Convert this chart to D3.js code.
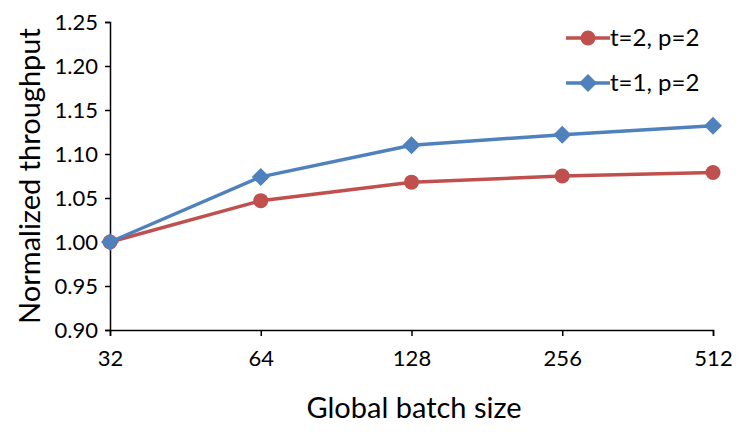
<!DOCTYPE html>
<html><head><meta charset="utf-8">
<script src="https://cdn.jsdelivr.net/npm/d3@7"></script>
<style>body{margin:0;background:#fff}svg{display:block}text{font-family:Lato,"Open Sans",sans-serif;fill:#000}</style>
</head><body><svg id="c" width="745" height="434"></svg>
<script>
const categories = ["32","64","128","256","512"];
const seriesNames = ["t=2, p=2","t=1, p=2"];
const red = [1.000,1.047,1.068,1.075,1.079];
const blue = [1.000,1.074,1.110,1.122,1.132];
const yTicks = [0.90,0.95,1.00,1.05,1.10,1.15,1.20,1.25];

const svg = d3.select("#c");
const x = d3.scalePoint().domain(categories).range([110,713]);
const y = d3.scaleLinear().domain([0.90,1.25]).range([330,22]);

const yAx = svg.append("g").attr("transform","translate(110,0)")
  .call(d3.axisLeft(y).tickValues(yTicks).tickFormat(d3.format(".2f")).tickSize(5).tickPadding(7));
const xAx = svg.append("g").attr("transform","translate(0,330)")
  .call(d3.axisBottom(x).tickSize(6).tickPadding(14));
[yAx,xAx].forEach(g=>{
  g.select(".domain").attr("stroke","#000").attr("stroke-width",1.5);
  g.selectAll(".tick line").attr("stroke","#000").attr("stroke-width",1.5);
  g.selectAll("text").attr("font-size",22).attr("font-family","Lato,'Open Sans',sans-serif").attr("fill","#000");
});

svg.append("text").attr("transform","translate(40,176) rotate(-90)").attr("text-anchor","middle")
  .attr("font-size",29).text("Normalized throughput");
svg.append("text").attr("x",414).attr("y",418).attr("text-anchor","middle")
  .attr("font-size",29).text("Global batch size");

const series = [
  {name:seriesNames[0], vals:red, color:"#C0504D", shape:"circle"},
  {name:seriesNames[1], vals:blue, color:"#4F81BD", shape:"diamond"}
];
const line = d3.line().x((d,i)=>x(categories[i])).y(d=>y(d));
function marker(g, shape, color, cx, cy){
  if(shape==="circle") g.append("circle").attr("cx",cx).attr("cy",cy).attr("r",7.5).attr("fill",color);
  else g.append("path").attr("d",`M${cx},${cy-9}L${cx+9},${cy}L${cx},${cy+9}L${cx-9},${cy}Z`).attr("fill",color);
}
series.forEach(s=>{
  svg.append("path").datum(s.vals).attr("d",line).attr("fill","none").attr("stroke",s.color).attr("stroke-width",3.5);
  const g = svg.append("g");
  s.vals.forEach((v,i)=>marker(g,s.shape,s.color,x(categories[i]),y(v)));
});

series.forEach((s,i)=>{
  const ly = 38 + i*45;
  const g = svg.append("g");
  g.append("line").attr("x1",566).attr("x2",610).attr("y1",ly).attr("y2",ly).attr("stroke",s.color).attr("stroke-width",3.5);
  marker(g,s.shape,s.color,588,ly);
  g.append("text").attr("x",610).attr("y",ly+8).attr("font-size",24).text(s.name);
});
</script></body></html>
